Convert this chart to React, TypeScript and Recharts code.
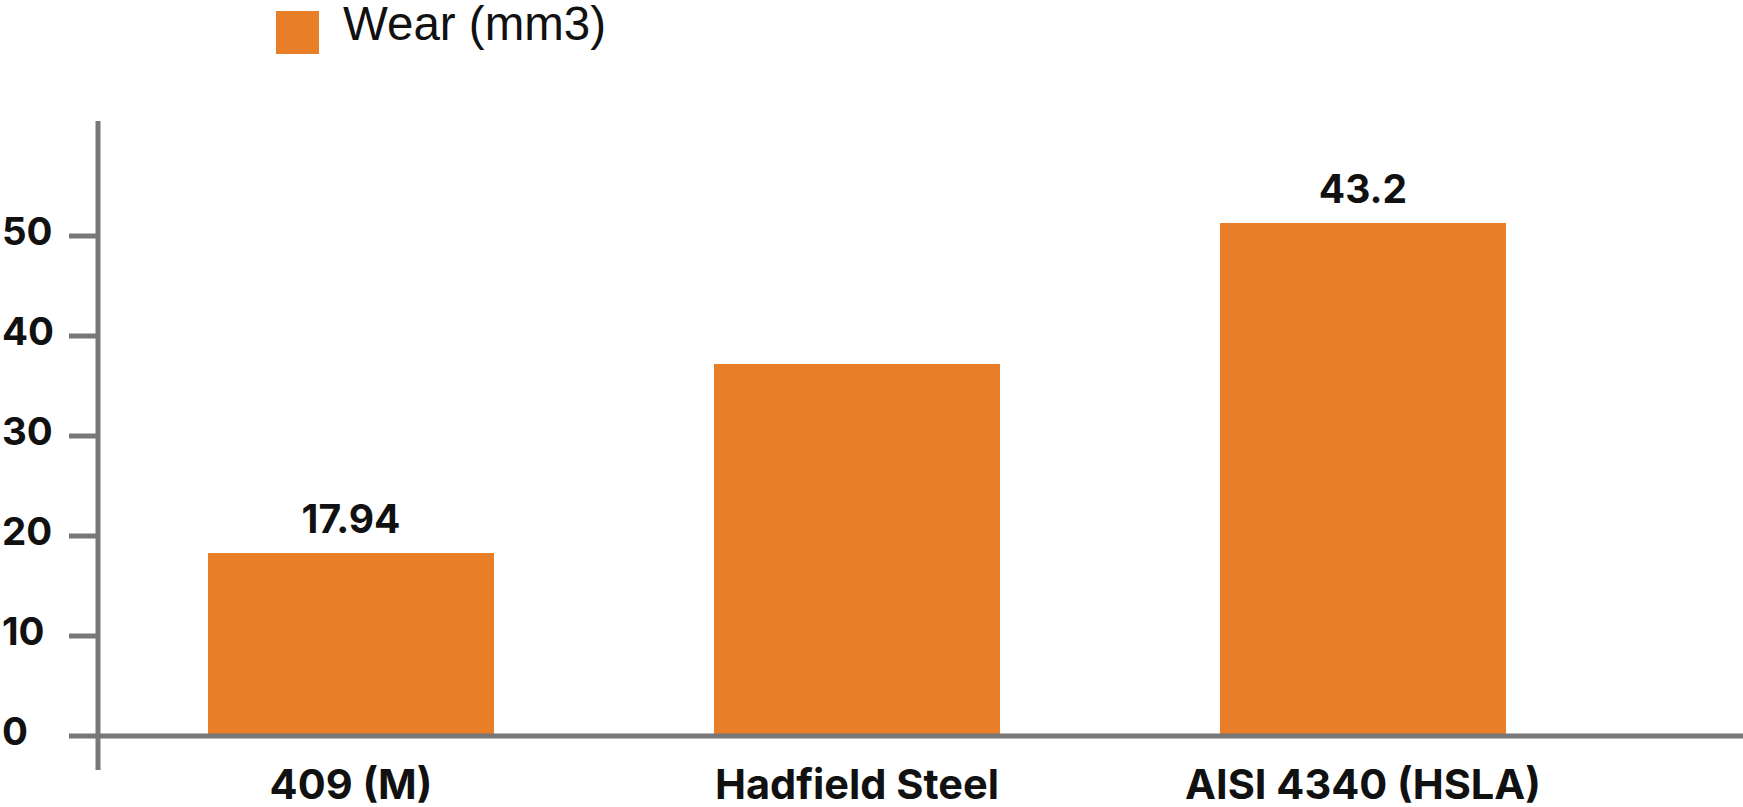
import React from 'react';
import { BarChart, Bar, XAxis, YAxis, ReferenceLine, LabelList, Legend } from 'recharts';

const categories = ['409 (M)', 'Hadfield Steel', 'AISI 4340 (HSLA)'];
const wearValues = [18.3, 37.2, 51.3];
const valueLabels = ['17.94', '', '43.2'];
const yTicks = [0, 10, 20, 30, 40, 50];
const seriesName = 'Wear (mm3)';

const data = categories.map((c, i) => ({ name: c, wear: wearValues[i], label: valueLabels[i] }));

const ORANGE = '#E97E28';
const GREY = '#777777';
const FONT = 'Inter, "Noto Sans", sans-serif';

const YTick = (props: any) => {
  const { y, payload } = props;
  return (
    <text x={2} y={y} dy={9} textAnchor="start" fontFamily={FONT} fontWeight={700} fontSize={38.5} fill="#111">
      {payload.value}
    </text>
  );
};

const XTick = (props: any) => {
  const { x, y, payload } = props;
  return (
    <text x={x} y={y + 29} textAnchor="middle" fontFamily={FONT} fontWeight={700} fontSize={41.5} fill="#111">
      {payload.value}
    </text>
  );
};

const LegendContent = () => (
  <div style={{ position: 'relative', width: 700, height: 60 }}>
    <div style={{ position: 'absolute', left: 276, top: 11, width: 43, height: 43, background: ORANGE }} />
    <span
      style={{
        position: 'absolute',
        left: 343,
        top: 1,
        fontFamily: '"Liberation Sans", Arial, sans-serif',
        fontSize: 47.5,
        lineHeight: '46px',
        color: '#111',
        whiteSpace: 'nowrap',
      }}
    >
      {seriesName}
    </span>
  </div>
);

export default function App() {
  return (
    <div style={{ position: 'absolute', left: 0, top: 0, width: 1743, height: 807, background: '#fff' }}>
      <BarChart width={1743} height={807} data={data} margin={{ top: 121, right: 0, bottom: 0, left: 0 }}>
        <Legend
          layout="vertical"
          align="center"
          verticalAlign="middle"
          wrapperStyle={{ top: 0, left: 0, width: 700 }}
          content={LegendContent}
        />
        <XAxis
          dataKey="name"
          height={37}
          axisLine={false}
          tickLine={false}
          tickSize={0}
          tickMargin={0}
          padding={{ left: 0, right: 127 }}
          tick={<XTick />}
          interval={0}
        />
        <YAxis
          width={98}
          domain={[-3.4, 61.5]}
          allowDataOverflow
          ticks={yTicks}
          axisLine={{ stroke: GREY, strokeWidth: 5 }}
          tickLine={{ stroke: GREY, strokeWidth: 5 }}
          tickSize={29}
          tickMargin={10}
          tick={<YTick />}
          interval={0}
        />
        <Bar dataKey="wear" name={seriesName} fill={ORANGE} barSize={286} isAnimationActive={false}>
          <LabelList
            dataKey="label"
            position="top"
            offset={20}
            fontFamily={FONT}
            fontWeight={700}
            fontSize={39}
            fill="#111"
          />
        </Bar>
        <ReferenceLine y={0} stroke={GREY} strokeWidth={5} />
      </BarChart>
    </div>
  );
}
